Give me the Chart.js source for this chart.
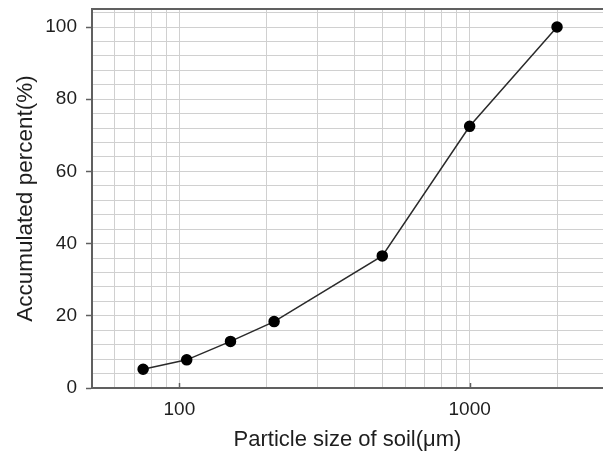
<!DOCTYPE html>
<html>
<head>
<meta charset="utf-8">
<script src="https://cdn.jsdelivr.net/npm/chart.js@4.4.1/dist/chart.umd.min.js"></script>
<style>
  html, body { margin: 0; padding: 0; background: #fff; }
  canvas { display: block; }
</style>
</head>
<body>
<canvas id="myChart" width="603" height="466"></canvas>
<script>
// particle size (um) vs accumulated percent
const sizes = [75, 106, 150, 212, 500, 1000, 2000];
const percent = [5.2, 7.8, 12.9, 18.4, 36.6, 72.5, 100];

// grid / tick values
const xGrid = [50, 60, 70, 80, 90, 100, 200, 300, 400, 500, 600, 700, 800, 900, 1000, 2000];
const xLabels = [100, 1000];
const yGrid = [0, 4, 8, 12, 16, 20, 24, 28, 32, 36, 40, 44, 48, 52, 56, 60, 64, 68, 72, 76, 80, 84, 88, 92, 96, 100, 104];
const yLabels = [0, 20, 40, 60, 80, 100];

const axisColor = '#606060';
const gridColor = '#d0d0d0';
const textColor = '#1e1e1e';
const fontFamily = '"Liberation Sans", Arial, Helvetica, sans-serif';

// top frame line + small inward ticks on the x axis
const framePlugin = {
  id: 'frame',
  afterDraw(chart) {
    const ctx = chart.ctx;
    const area = chart.chartArea;
    const xs = chart.scales.x;
    ctx.save();
    ctx.strokeStyle = axisColor;
    ctx.lineWidth = 2;
    ctx.beginPath();
    ctx.moveTo(area.left - 1, area.top);
    ctx.lineTo(area.right, area.top);
    ctx.stroke();
    ctx.lineWidth = 1.5;
    xLabels.forEach((v) => {
      const px = Math.round(xs.getPixelForValue(v)) + 0.5;
      ctx.beginPath();
      ctx.moveTo(px, area.bottom);
      ctx.lineTo(px, area.bottom - 5);
      ctx.stroke();
    });
    ctx.restore();
  }
};

new Chart(document.getElementById('myChart'), {
  type: 'line',
  data: {
    datasets: [{
      data: sizes.map((s, i) => ({ x: s, y: percent[i] })),
      borderColor: '#2a2a2a',
      borderWidth: 1.5,
      pointBackgroundColor: '#000',
      pointBorderColor: '#000',
      pointRadius: 5,
      pointHoverRadius: 5,
      tension: 0,
      fill: false
    }]
  },
  options: {
    responsive: false,
    animation: false,
    layout: { autoPadding: false, padding: { top: 9, right: 0, left: 0, bottom: 0 } },
    plugins: {
      legend: { display: false },
      tooltip: { enabled: false }
    },
    scales: {
      x: {
        type: 'logarithmic',
        min: 50,
        max: 2880,
        afterBuildTicks: (scale) => {
          scale.ticks = xGrid.map((v) => ({ value: v }));
        },
        afterFit: (scale) => {
          scale.height = 78;
          scale.paddingLeft = 0;
          scale.paddingRight = 0;
        },
        ticks: {
          autoSkip: false,
          maxRotation: 0,
          padding: 10,
          color: textColor,
          font: { family: fontFamily, size: 19 },
          callback: (v) => (xLabels.includes(v) ? String(v) : '')
        },
        grid: {
          color: gridColor,
          lineWidth: 1,
          drawTicks: false
        },
        border: { color: axisColor, width: 2 },
        title: {
          display: true,
          text: 'Particle size of soil(\u03bcm)',
          color: textColor,
          font: { family: fontFamily, size: 22 },
          padding: { top: 0, bottom: 13 }
        }
      },
      y: {
        type: 'linear',
        min: 0,
        max: 105,
        afterBuildTicks: (scale) => {
          scale.ticks = yGrid.map((v) => ({ value: v }));
        },
        afterFit: (scale) => {
          scale.width = 92;
          scale.paddingTop = 0;
          scale.paddingBottom = 0;
        },
        ticks: {
          autoSkip: false,
          padding: 9,
          color: textColor,
          font: { family: fontFamily, size: 19 },
          callback: (v) => (yLabels.includes(v) ? String(v) : '')
        },
        grid: {
          color: gridColor,
          lineWidth: 1,
          tickLength: 6,
          tickColor: (c) => (c.tick && yLabels.includes(c.tick.value) ? axisColor : 'rgba(0,0,0,0)'),
          tickWidth: 1.5
        },
        border: { color: axisColor, width: 2 },
        title: {
          display: true,
          text: 'Accumulated percent(%)',
          color: textColor,
          font: { family: fontFamily, size: 22.5 },
          padding: { top: 12, bottom: 0 }
        }
      }
    }
  },
  plugins: [framePlugin]
});
</script>
</body>
</html>
